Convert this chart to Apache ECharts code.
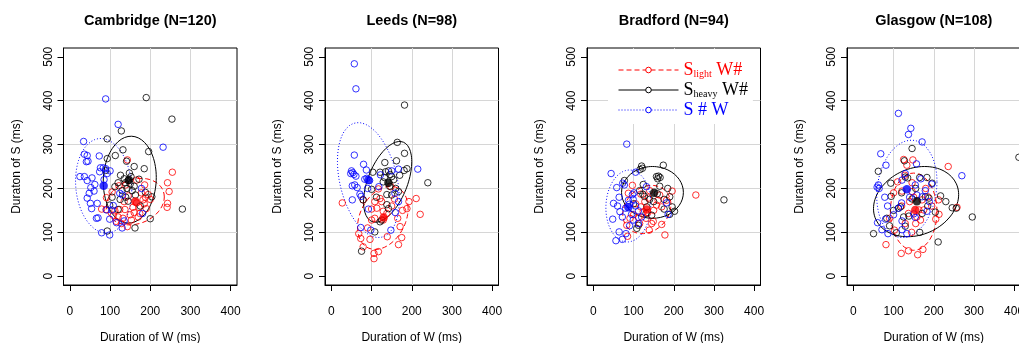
<!DOCTYPE html>
<html>
<head>
<meta charset="utf-8">
<script src="https://cdn.jsdelivr.net/npm/echarts@6/dist/echarts.min.js"></script>
<style>html,body{margin:0;padding:0;background:#fff;}#chart{width:1019px;height:343px;}</style>
</head>
<body>
<div id="chart"></div>
<script>
// ---- tick labels / categories ----
const xTicks = [0, 100, 200, 300, 400];
const yTicks = [0, 100, 200, 300, 400, 500];
const panelTitles = ['Cambridge (N=120)', 'Leeds (N=98)', 'Bradford (N=94)', 'Glasgow (N=108)'];
const groupNames = ['light', 'heavy', 'SW'];

// ---- Cambridge ----
const cambridgeLight = [[143,265],[255,237],[243,213],[247,193],[243,166],[242,157],[105,192],[91,179],[79,153],[90,152],[145,183],[122,206],[139,208],[166,219],[186,208],[195,186],[182,174],[166,167],[157,157],[172,157],[124,152],[137,152],[108,139],[120,135],[132,132],[153,128],[170,135],[174,143],[128,120],[143,113],[112,149],[190,154],[188,180],[178,190],[150,140],[160,145],[185,165],[115,125],[200,175],[135,170]];
const cambridgeHeavy = [[190,407],[254,358],[128,331],[93,313],[132,288],[196,284],[160,250],[185,245],[113,275],[141,262],[93,268],[89,241],[126,230],[152,227],[172,221],[120,213],[138,213],[145,218],[150,210],[135,222],[142,200],[155,195],[280,153],[200,131],[162,110],[93,103],[120,152],[139,180],[145,171],[163,185],[188,191],[204,181],[112,204],[99,162],[130,195],[175,160],[105,180],[160,205],[148,235],[125,175]];
const cambridgeSW = [[89,404],[120,346],[34,307],[232,294],[36,278],[43,275],[41,261],[45,262],[73,274],[76,247],[83,247],[89,245],[93,234],[74,238],[25,227],[36,227],[43,218],[55,224],[62,209],[52,202],[60,194],[48,189],[43,178],[51,166],[54,154],[68,166],[66,132],[70,133],[79,99],[99,94],[104,151],[108,161],[91,151],[99,130],[116,122],[130,110],[135,126],[131,185],[124,189],[178,200],[181,143],[85,220],[100,240]];
const cambridgeMeans = [[163,170],[147,219],[84,206]];
const cambridgeEllipses = [[163,170,72,53,0.2],[149,220,66,99,0.05],[84,206,70,108,-0.1]];

// ---- Leeds ----
const leedsLight = [[27,167],[79,174],[108,170],[113,155],[100,153],[117,199],[121,177],[125,170],[108,132],[100,128],[129,148],[138,143],[129,128],[73,86],[68,97],[79,67],[96,84],[106,40],[106,52],[117,56],[139,90],[167,72],[175,88],[171,113],[165,132],[188,154],[193,170],[177,150],[211,177],[221,141],[157,176],[148,204],[90,110],[150,160]];
const leedsHeavy = [[182,390],[164,305],[182,280],[162,263],[133,259],[188,245],[181,241],[103,237],[121,237],[135,238],[142,240],[146,232],[150,227],[240,213],[129,215],[138,186],[150,185],[167,193],[79,174],[100,198],[138,163],[142,154],[125,128],[121,124],[108,101],[75,57],[155,220],[145,205],[160,200],[132,225],[170,230],[112,180]];
const leedsSW = [[57,484],[61,427],[57,276],[80,255],[50,240],[53,236],[48,234],[56,232],[61,228],[87,242],[83,221],[88,223],[95,218],[52,206],[58,208],[64,202],[71,187],[74,182],[52,174],[92,153],[73,111],[98,105],[122,231],[150,240],[167,244],[215,244],[118,204],[158,189],[167,170],[148,105],[159,145],[90,200]];
const leedsMeans = [[130,134],[142,213],[92,219]];
const leedsEllipses = [[128,133,63,72,0.3],[140,215,60,92,0.5],[92,219,77,131,-0.33]];

// ---- Bradford ----
const bradfordLight = [[255,185],[97,207],[87,189],[118,187],[137,178],[161,173],[182,173],[196,194],[170,158],[157,162],[135,145],[118,158],[112,134],[91,132],[83,116],[131,132],[145,120],[139,105],[149,125],[170,118],[178,94],[85,91],[124,147],[105,165],[150,150],[165,185],[128,170],[100,140],[140,195],[115,120]];
const bradfordHeavy = [[120,251],[122,246],[116,243],[174,253],[77,218],[157,227],[162,228],[166,225],[160,222],[124,209],[123,187],[127,182],[159,188],[176,175],[190,181],[196,158],[202,148],[190,141],[176,153],[131,143],[112,116],[108,109],[325,174],[133,158],[145,139],[140,175],[165,205],[100,165],[150,170],[185,200],[115,195]];
const bradfordSW = [[83,301],[44,234],[105,237],[73,212],[77,208],[58,202],[64,180],[101,190],[97,186],[50,166],[87,173],[89,164],[66,147],[72,135],[48,130],[95,141],[112,149],[99,128],[112,120],[64,101],[72,84],[56,81],[81,97],[99,175],[186,141],[182,167],[132,204],[80,155],[60,160],[105,160],[90,115],[120,135]];
const bradfordMeans = [[133,152],[151,190],[87,157]];
const bradfordEllipses = [[133,152,60,55,0.2],[147,191,77,59,0.0],[87,160,56,82,0.05]];

// ---- Glasgow ----
const glasgowLight = [[125,266],[148,265],[133,253],[236,250],[100,190],[121,194],[146,213],[146,193],[185,181],[212,174],[213,141],[258,157],[137,143],[158,135],[167,128],[163,151],[175,151],[171,174],[129,120],[81,72],[119,52],[137,58],[160,49],[173,61],[102,105],[90,132],[140,170],[155,120],[195,160],[120,160],[110,215],[180,200],[145,100],[205,130],[128,230],[150,180]];
const glasgowHeavy = [[146,291],[127,263],[62,239],[93,212],[94,182],[83,132],[50,97],[129,226],[135,224],[196,212],[183,225],[179,181],[188,178],[217,183],[246,156],[256,155],[296,135],[211,78],[165,100],[117,158],[112,155],[138,137],[129,114],[107,99],[146,176],[171,143],[204,146],[412,271],[100,150],[155,200],[120,190],[185,160],[165,225],[90,115],[125,135],[230,170]];
const glasgowSW = [[112,371],[143,337],[137,323],[171,306],[68,279],[81,253],[157,256],[270,229],[62,208],[64,200],[59,203],[78,180],[85,160],[60,122],[71,106],[86,97],[121,106],[133,97],[121,219],[129,234],[154,208],[168,222],[179,195],[171,181],[158,185],[183,148],[189,170],[121,126],[150,142],[154,134],[112,155],[120,167],[100,140],[140,180],[80,130],[195,210]];
const glasgowMeans = [[154,151],[158,171],[133,198]];
const glasgowEllipses = [[150,147,58,88,0.0],[156,170,106,80,0.2],[133,199,75,111,0.15]];

// ---- assembly ----
const panels = [
  {pts:[cambridgeLight,cambridgeHeavy,cambridgeSW], means:cambridgeMeans, ell:cambridgeEllipses},
  {pts:[leedsLight,leedsHeavy,leedsSW], means:leedsMeans, ell:leedsEllipses},
  {pts:[bradfordLight,bradfordHeavy,bradfordSW], means:bradfordMeans, ell:bradfordEllipses},
  {pts:[glasgowLight,glasgowHeavy,glasgowSW], means:glasgowMeans, ell:glasgowEllipses}
];
const colors = ['#ff0000', '#000000', '#0000ff'];
const dashes = [[5,3], 'solid', [1,2]];
const gridLeft = [63.5, 325, 587, 847];
const gridWidth = 173.5;
const gridTop = 48, gridHeight = 237;
const sans = 'Liberation Sans, Arial, sans-serif';

function ellipseOutline(p) {
  const cx = p[0], cy = p[1], sx = p[2], sy = p[3], r = p[4];
  const q = Math.sqrt(1 - r * r);
  const out = [];
  for (let i = 0; i <= 96; i++) {
    const t = i / 96 * 2 * Math.PI;
    out.push([cx + sx * Math.cos(t), cy + sy * (r * Math.cos(t) + q * Math.sin(t))]);
  }
  return out;
}

const grids = [], xAxes = [], yAxes = [], titles = [], series = [];
panels.forEach((pn, i) => {
  grids.push({left: gridLeft[i], top: gridTop, width: gridWidth, height: gridHeight,
    outerBoundsMode: 'none', containLabel: false,
    show: true, borderColor: '#000', borderWidth: 1, backgroundColor: 'transparent'});
  xAxes.push({gridIndex: i, type: 'value', min: -16, max: 416, minInterval: 100, maxInterval: 100,
    axisLine: {show: true, onZero: false, lineStyle: {color: '#000', width: 1}},
    axisTick: {show: true, length: 6, customValues: xTicks, lineStyle: {color: '#000'}},
    axisLabel: {customValues: xTicks, margin: 21, fontSize: 12, color: '#000', fontFamily: sans},
    splitLine: {show: true, showMinLine: false, showMaxLine: false, lineStyle: {color: '#d6d6d6', width: 1}},
    name: 'Duration of W (ms)', nameLocation: 'middle', nameGap: 47,
    nameTextStyle: {fontSize: 12, color: '#000', fontFamily: sans}});
  yAxes.push({gridIndex: i, type: 'value', min: -20, max: 520, minInterval: 100, maxInterval: 100,
    axisLine: {show: true, onZero: false, lineStyle: {color: '#000', width: 1}},
    axisTick: {show: true, length: 6, customValues: yTicks, lineStyle: {color: '#000'}},
    axisLabel: {customValues: yTicks, rotate: 90, margin: 9, fontSize: 12, color: '#000', fontFamily: sans},
    splitLine: {show: true, showMinLine: false, showMaxLine: false, lineStyle: {color: '#d6d6d6', width: 1}},
    name: 'Duraton of S (ms)', nameLocation: 'middle', nameGap: 41,
    nameTextStyle: {fontSize: 12, color: '#000', fontFamily: sans}});
  titles.push({text: panelTitles[i], left: gridLeft[i] + gridWidth / 2, top: 13, textAlign: 'center', padding: 0,
    textStyle: {fontSize: 14.5, fontWeight: 'bold', color: '#000', fontFamily: sans}});
  for (let g = 0; g < 3; g++) {
    series.push({type: 'line', name: groupNames[g], xAxisIndex: i, yAxisIndex: i,
      data: ellipseOutline(pn.ell[g]), showSymbol: false, symbol: 'circle', silent: true,
      lineStyle: {color: colors[g], width: 1, type: dashes[g]}, itemStyle: {color: colors[g]}, z: 2});
  }
  for (let g = 0; g < 3; g++) {
    series.push({type: 'scatter', name: groupNames[g], xAxisIndex: i, yAxisIndex: i,
      data: pn.pts[g], symbol: 'circle', symbolSize: 6.5, silent: true,
      itemStyle: {color: 'rgba(0,0,0,0)', borderColor: colors[g], borderWidth: 1}, z: 3});
  }
  for (let g = 0; g < 3; g++) {
    series.push({type: 'scatter', name: groupNames[g], xAxisIndex: i, yAxisIndex: i,
      data: [pn.means[g]], symbol: 'circle', symbolSize: 8.5, silent: true,
      itemStyle: {color: colors[g]}, z: 4});
  }
});

const legendLabels = {light: '{m|S}{sub|light}{m| W#}', heavy: '{m|S}{sub|heavy}{m| W#}', SW: '{m|S # W}'};
const serif = 'Liberation Serif, Times New Roman, serif';

const option = {
  animation: false,
  backgroundColor: '#fff',
  title: titles,
  grid: grids,
  xAxis: xAxes,
  yAxis: yAxes,
  legend: {
    orient: 'vertical', left: 608, top: 49, padding: [12, 5, 5, 10], backgroundColor: '#fff',
    itemWidth: 60, itemHeight: 7, itemGap: 2, selectedMode: false,
    data: groupNames.map((n, g) => ({name: n, textStyle: {color: colors[g]},
      lineStyle: {color: colors[g], width: 1, type: dashes[g]},
      itemStyle: {color: '#fff', borderColor: colors[g], borderWidth: 1}})),
    formatter: n => legendLabels[n],
    textStyle: {fontFamily: serif, fontSize: 18, rich: {
      m: {fontFamily: serif, fontSize: 18, lineHeight: 18},
      sub: {fontFamily: serif, fontSize: 10, lineHeight: 10, padding: [8, 0, 0, 0]}
    }}
  },
  series: series
};

const chart = echarts.init(document.getElementById('chart'), null, {renderer: 'canvas'});
chart.setOption(option);
</script>
</body>
</html>
